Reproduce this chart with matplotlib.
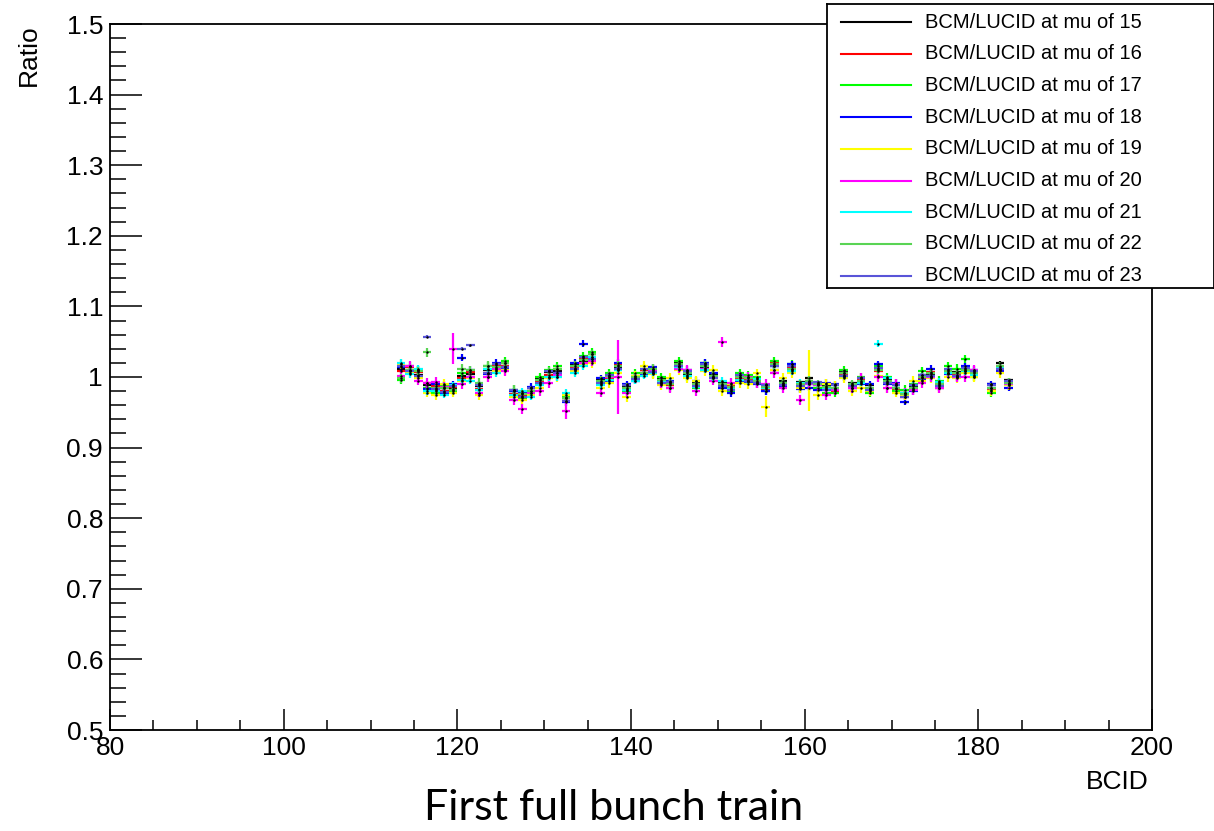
import numpy as np
import matplotlib
matplotlib.use("Agg")
import matplotlib.pyplot as plt
from matplotlib.ticker import MultipleLocator

plt.rcParams['font.family'] = ['Liberation Sans', 'DejaVu Sans']

nan = np.nan

# first BCID of each bin in the train (bins 113..183)
bcid = np.arange(113, 184)

mu_values = [15, 16, 17, 18, 19, 20, 21, 22, 23]
colors = ['#000000', '#ff0000', '#00ff00', '#0000ff', '#ffff00',
          '#ff00ff', '#00ffff', '#59d454', '#5954d8']

ratio_mu15 = [1.012, 1.010, 1.003, 0.988, 0.982, 0.984, 0.983, 1.002, 1.004, 0.987,
              1.010, 1.013, 1.020, 0.980, 0.978, 0.980, 0.997, 1.007, 1.008, 0.970,
              1.018, 1.022, 1.028, 0.997, 1.002, 1.013, 0.987, 1.002, 1.006, 1.012,
              0.998, 0.992, 1.020, 1.003, 0.992, 1.013, 1.004, 0.993, 0.983, 1.003,
              1.000, 0.998, 0.988, 1.015, 0.995, 1.010, 0.993, 0.998, 0.988, 0.987,
              0.983, 1.008, 0.992, 0.993, 0.988, 1.012, 0.997, 0.988, 0.978, 0.987,
              1.003, 1.004, 0.992, 1.010, 1.007, 1.012, 1.007, nan, 0.990, 1.020, 0.996]
ratio_mu16 = [1.008, 1.014, 1.007, 0.992, 0.987, 0.980, 0.986, 0.998, 1.007, 0.983,
              1.006, 1.017, 1.016, 0.976, 0.973, 0.984, 0.993, 1.003, 1.012, 0.966,
              1.013, 1.027, 1.032, 0.993, 0.998, 1.017, 0.983, 0.998, 1.010, 1.008,
              0.993, 0.988, 1.016, 1.007, 0.988, 1.017, 1.000, 0.988, 0.987, 0.998,
              0.996, 0.993, 0.983, 1.020, 0.990, 1.014, 0.988, 0.993, 0.992, 0.983,
              0.980, 1.003, 0.988, 0.997, 0.983, 1.008, 0.993, 0.983, 0.972, 0.983,
              0.998, 1.007, 0.988, 1.006, 1.003, 1.008, 1.002, nan, 0.982, 1.010, 0.990]
ratio_mu17 = [0.996, 1.015, 1.010, 0.985, 0.978, 0.988, 0.980, 1.005, 1.000, 0.978,
              1.015, 1.010, 1.022, 0.982, 0.970, 0.978, 1.000, 1.010, 1.015, 0.972,
              1.010, 1.030, 1.035, 0.990, 1.005, 1.010, 0.980, 1.005, 1.012, 1.005,
              1.000, 0.985, 1.022, 1.000, 0.985, 1.020, 0.998, 0.985, 0.980, 1.005,
              1.003, 1.000, 0.980, 1.023, 0.988, 1.018, 0.985, 0.990, 0.985, 0.978,
              0.978, 1.010, 0.985, 1.000, 0.978, 1.015, 1.000, 0.980, 0.982, 0.990,
              1.008, 1.000, 0.995, 1.015, 1.012, 1.025, 1.000, nan, 0.978, 1.012, 0.988]
ratio_mu18 = [1.014, 1.008, 1.010, 0.983, 0.990, 0.978, 0.990, 1.027, 1.010, 0.990,
              1.004, 1.020, 1.012, 0.980, 0.977, 0.986, 0.990, 1.000, 1.005, 0.964,
              1.020, 1.047, 1.025, 0.998, 0.995, 1.020, 0.990, 0.995, 1.004, 1.014,
              0.990, 0.995, 1.015, 1.010, 0.995, 1.020, 1.006, 0.985, 0.977, 0.994,
              0.993, 0.990, 0.980, 1.010, 0.987, 1.018, 0.983, 0.985, 0.982, 0.992,
              0.990, 1.000, 0.985, 0.990, 0.990, 1.018, 0.990, 0.992, 0.965, 0.980,
              0.996, 1.012, 0.985, 1.004, 1.000, 1.015, 1.010, nan, 0.990, 1.008, 0.985]
ratio_mu19 = [1.018, 1.006, 0.998, 0.978, 0.975, 0.990, 0.978, 0.995, 0.998, 0.975,
              1.000, 1.008, 1.010, 0.972, 0.968, 0.975, 0.985, 0.998, 1.000, 0.975,
              1.008, 1.018, 1.020, 0.985, 0.992, 1.005, 0.972, 1.002, 1.015, 1.004,
              0.988, 0.998, 1.010, 0.998, 0.995, 1.008, 1.010, 0.980, 0.990, 0.992,
              0.990, 1.005, 0.958, 1.010, 0.998, 1.005, 0.985, 0.995, 0.975, 0.990,
              0.988, 0.998, 0.980, 0.985, 0.980, 1.002, 0.985, 0.978, 0.975, 0.995,
              0.995, 0.998, 0.985, 1.000, 0.998, 1.005, 1.000, nan, 0.980, 1.005, 0.988]
ratio_mu20 = [1.002, 1.016, 0.995, 0.992, 0.993, 0.986, 1.040, 0.990, 1.000, 0.978,
              1.000, 1.012, 1.008, 0.968, 0.955, 0.978, 0.980, 0.992, 1.003, 0.952,
              1.012, 1.020, 1.022, 0.978, 1.000, 1.000, 0.978, 0.998, 1.005, 1.010,
              0.992, 0.985, 1.012, 1.010, 0.980, 1.012, 0.995, 1.050, 0.992, 1.000,
              1.000, 0.992, 0.990, 1.005, 0.985, 1.012, 0.968, 0.990, 0.988, 0.975,
              0.982, 1.005, 0.985, 0.998, 0.983, 1.000, 0.985, 0.990, 0.978, 0.982,
              0.992, 1.000, 0.985, 1.005, 1.000, 1.000, 1.010, nan, 0.985, 1.012, 0.990]
ratio_mu21 = [1.020, 1.004, 1.012, 0.980, 0.980, 0.975, 0.988, 0.996, 0.995, 0.982,
              1.012, 1.005, 1.014, 0.975, 0.980, 0.972, 0.988, 1.000, 1.000, 0.978,
              1.005, 1.015, 1.028, 0.988, 0.996, 1.010, 0.982, 0.995, 1.002, 1.006,
              0.995, 0.993, 1.014, 1.002, 0.986, 1.010, 1.000, 0.995, 0.985, 0.996,
              0.995, 0.997, 0.985, 1.015, 0.992, 1.008, 0.992, 0.992, 0.990, 0.985,
              0.985, 1.002, 0.988, 0.992, 0.985, 1.047, 0.998, 0.985, 0.978, 0.988,
              1.000, 1.002, 0.993, 1.006, 1.002, 1.008, 1.003, nan, 0.985, 1.014, 0.992]
ratio_mu22 = [0.998, 1.010, 1.008, 1.035, 0.984, 0.985, 0.982, 1.012, 1.010, 0.992,
              1.016, 1.014, 1.020, 0.982, 0.976, 0.980, 0.996, 1.008, 1.012, 0.970,
              1.016, 1.024, 1.032, 0.995, 1.002, 1.016, 0.985, 1.000, 1.006, 1.012,
              0.996, 0.990, 1.018, 1.006, 0.990, 1.016, 1.002, 0.990, 0.986, 1.000,
              0.998, 0.995, 0.986, 1.018, 0.992, 1.012, 0.990, 0.995, 0.990, 0.986,
              0.985, 1.005, 0.990, 0.995, 0.985, 1.010, 0.995, 0.985, 0.976, 0.985,
              1.000, 1.005, 0.990, 1.008, 1.005, 1.010, 1.005, nan, 0.985, 1.015, 0.992]
ratio_mu23 = [1.016, 1.009, 1.001, 1.057, 0.983, 0.979, 0.987, 1.040, 1.045, 0.988,
              1.005, 1.018, 1.014, 0.981, 0.972, 0.985, 0.992, 1.008, 1.006, 0.966,
              1.012, 1.028, 1.026, 0.992, 1.003, 1.012, 0.988, 0.997, 1.011, 1.007,
              0.992, 0.993, 1.015, 1.008, 0.987, 1.018, 0.999, 0.987, 0.982, 1.003,
              0.995, 0.992, 0.988, 1.015, 0.989, 1.015, 0.987, 0.992, 0.993, 0.982,
              0.988, 1.002, 0.987, 0.998, 0.982, 1.013, 0.992, 0.988, 0.972, 0.988,
              1.003, 1.002, 0.987, 1.011, 1.002, 1.013, 1.008, nan, 0.988, 1.012, 0.995]

ratios = [ratio_mu15, ratio_mu16, ratio_mu17, ratio_mu18, ratio_mu19,
          ratio_mu20, ratio_mu21, ratio_mu22, ratio_mu23]

# typical statistical error per mu, plus the few bins with large errors
typical_err = [0.002, 0.003, 0.006, 0.005, 0.007, 0.007, 0.005, 0.006, 0.002]
large_err = {(20, 119): 0.022, (20, 138): 0.052, (20, 132): 0.012,
             (19, 160): 0.043, (19, 155): 0.015}

fig = plt.figure(figsize=(12.14, 8.31), dpi=100)
ax = fig.add_axes([110 / 1214, 1 - 730 / 831, 1042 / 1214, 706 / 831])

for mu, col, vals, e in zip(mu_values, colors, ratios, typical_err):
    err = np.full(len(bcid), e)
    for (m, b), big in large_err.items():
        if m == mu:
            err[b - bcid[0]] = big
    ax.errorbar(bcid + 0.5, vals, xerr=0.5, yerr=err, fmt='.', color=col,
                ecolor=col, mfc='k', mec='k', ms=1.5, elinewidth=1.6, capsize=0)

ax.set_xlim(80, 200)
ax.set_ylim(0.5, 1.5)
ax.xaxis.set_major_locator(MultipleLocator(20))
ax.xaxis.set_minor_locator(MultipleLocator(5))
ax.yaxis.set_major_locator(MultipleLocator(0.1))
ax.yaxis.set_minor_locator(MultipleLocator(0.02))
ax.xaxis.set_major_formatter(plt.FuncFormatter(lambda v, p: f"{v:g}"))
ax.yaxis.set_major_formatter(plt.FuncFormatter(lambda v, p: f"{v:g}"))

ax.tick_params(axis='both', which='both', direction='in', width=1.1,
               labelsize=19, top=False, right=False)
ax.tick_params(axis='x', which='major', length=15, pad=4)
ax.tick_params(axis='x', which='minor', length=7.5)
ax.tick_params(axis='y', which='major', length=23, pad=5)
ax.tick_params(axis='y', which='minor', length=11.5)
for sp in ax.spines.values():
    sp.set_linewidth(1.3)

fig.text(29 / 1214, 1 - 24 / 831, 'Ratio', rotation=90, ha='center', va='top',
         fontsize=19)
fig.text(1117 / 1214, 1 - 782 / 831, 'BCID', ha='center', va='center',
         fontsize=19)
fig.text(614 / 1214, 1 - 808 / 831, 'First full bunch train', ha='center',
         va='center', fontsize=31, family=['Lato', 'DejaVu Sans'])

# legend box in the top right corner
lax = fig.add_axes([827 / 1214, 1 - 288 / 831, 387 / 1214, 284 / 831])
lax.set_xlim(0, 387)
lax.set_ylim(284, 0)
lax.set_xticks([])
lax.set_yticks([])
lax.patch.set_facecolor('white')
for sp in lax.spines.values():
    sp.set_linewidth(1.3)
for i, (mu, col) in enumerate(zip(mu_values, colors)):
    y = 18 + i * 31.7
    lax.plot([14, 84], [y, y], color=col, lw=1.5)
    lax.text(98, y, f'BCM/LUCID at mu of {mu}', va='center', ha='left',
             fontsize=14.5)

fig.savefig('out.png', dpi=100)
